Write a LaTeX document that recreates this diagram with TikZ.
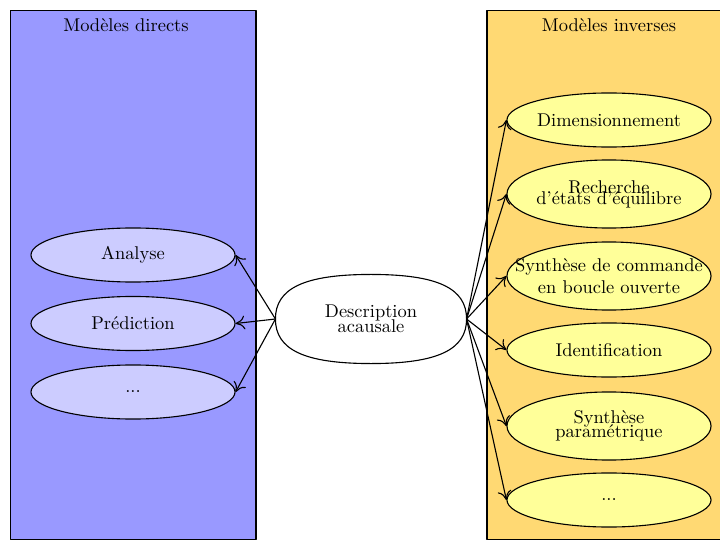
\documentclass[tikz,border=0pt]{standalone}
\usepackage{fontspec}
\usetikzlibrary{shapes.geometric,arrows.meta}
\definecolor{boxL}{RGB}{153,153,255}
\definecolor{ellL}{RGB}{204,204,255}
\definecolor{boxR}{RGB}{255,217,115}
\definecolor{ellR}{RGB}{255,255,153}
\begin{document}
\begin{tikzpicture}[x=0.542pt,y=-0.542pt, line width=0.6pt, line join=round,
  modbox/.style={draw=black},
  ellsm/.style={ellipse, draw, minimum width=110.6pt, minimum height=29.3pt, inner sep=0pt, align=center},
  elltall/.style={ellsm, minimum height=36.9pt},
  lft/.style={fill=ellL}, rgt/.style={fill=ellR},
  conn/.style={-{To[length=5pt,width=7.5pt]}}]
\useasboundingbox (0,0) rectangle (720,541);
\clip (0,0) rectangle (720,541);
% boxes
\draw[modbox, fill=boxL] (10.5,10.5) rectangle (256,539.5);
\draw[modbox, fill=boxR] (487,10.5) rectangle (760,539.5);
\node[anchor=base] (tl) at (126,31.5) {Modèles directs};
\node[anchor=base] (tr) at (609,31.5) {Modèles inverses};
% left
\node[ellsm, lft] (an) at (133,255) {Analyse};
\node[ellsm, lft] (pr) at (133,323.5) {Prédiction};
\node[ellsm, lft] (ld) at (133,392) {...};
% right
\node[ellsm, rgt] (dim) at (609,120) {Dimensionnement};
\node[elltall, rgt, inner xsep=-16pt] (rec) at (609,194) {Recherche\\[-6pt]d'états d'équilibre};
\node[elltall, rgt, inner xsep=-16pt] (syn) at (609,276) {Synthèse de commande\\en boucle ouverte};
\node[ellsm, rgt] (ide) at (609,350) {Identification};
\node[elltall, rgt] (par) at (609,426) {Synthèse\\[-4.4pt]paramétrique};
\node[ellsm, rgt] (rd) at (609,500) {...};
% centre
\node[minimum width=103pt, minimum height=47.7pt, inner sep=0pt, align=center] (desc) at (371,319) {Description\\[-4pt]acausale};
\draw (desc.west) .. controls +(0pt,16.7pt) and +(-36pt,0pt) .. (desc.north)
  .. controls +(36pt,0pt) and +(0pt,16.7pt) .. (desc.east)
  .. controls +(0pt,-16.7pt) and +(36pt,0pt) .. (desc.south)
  .. controls +(-36pt,0pt) and +(0pt,-16.7pt) .. (desc.west);
% connectors
\draw[conn] (desc.west) -- (an.east);
\draw[conn] (desc.west) -- (pr.east);
\draw[conn] (desc.west) -- (ld.east);
\draw[conn] (desc.east) -- (dim.west);
\draw[conn] (desc.east) -- (rec.west);
\draw[conn] (desc.east) -- (syn.west);
\draw[conn] (desc.east) -- (ide.west);
\draw[conn] (desc.east) -- (par.west);
\draw[conn] (desc.east) -- (rd.west);
\end{tikzpicture}
\end{document}
